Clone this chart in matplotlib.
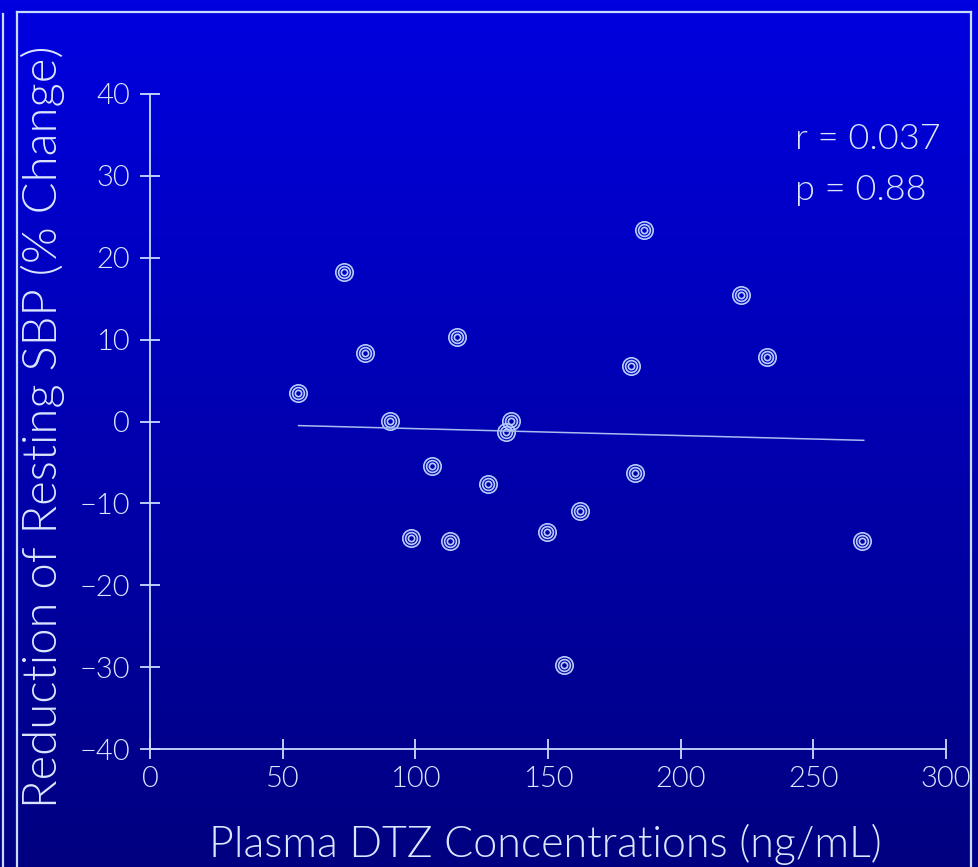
import numpy as np
import matplotlib.pyplot as plt
from matplotlib.lines import Line2D

# plasma diltiazem concentration (ng/mL) vs reduction of resting SBP (%)
conc = [55.8, 73.1, 81.0, 90.5, 98.4, 106.3, 113.1, 115.7, 127.4, 134.2,
        136.1, 149.6, 156.0, 162.1, 181.3, 182.8, 186.2, 222.8, 232.6, 268.4]
sbp = [3.5, 18.3, 8.4, 0.1, -14.2, -5.4, -14.6, 10.3, -7.6, -1.3,
       0.1, -13.5, -29.7, -10.9, 6.8, -6.3, 23.4, 15.4, 7.9, -14.6]

# regression line as drawn
fit_x = [56, 269]
fit_y = [-0.5, -2.3]

x_ticks = [0, 50, 100, 150, 200, 250, 300]
y_ticks = [-40, -30, -20, -10, 0, 10, 20, 30, 40]
stats = ["r = 0.037", "p = 0.88"]

plt.rcParams['font.family'] = ['Lato', 'DejaVu Sans']
plt.rcParams['font.weight'] = 300

fg = '#c8dcff'
txt = '#dce6ff'

fig = plt.figure(figsize=(9.79, 8.67), dpi=100)

# gradient background
bg = fig.add_axes([0, 0, 1, 1], zorder=-10)
grad = np.linspace(0, 1, 256).reshape(-1, 1)
top = np.array([0, 0, 224]) / 255
bot = np.array([0, 0, 128]) / 255
img = top[None, None, :] * (1 - grad[:, :, None]) + bot[None, None, :] * grad[:, :, None]
bg.imshow(img, aspect='auto', extent=[0, 1, 0, 1])
bg.set_axis_off()

# frame lines
for xs, ys in [([3 / 979, 3 / 979], [0, 1 - 14 / 867]),
               ([17 / 979, 17 / 979], [0, 1 - 12 / 867]),
               ([17 / 979, 971 / 979], [1 - 12 / 867, 1 - 12 / 867]),
               ([971 / 979, 971 / 979], [0, 1 - 12 / 867])]:
    fig.add_artist(Line2D(xs, ys, transform=fig.transFigure, color=fg, lw=1.6))

ax = fig.add_axes([150 / 979, 118 / 867, 796 / 979, 655 / 867])
ax.patch.set_alpha(0)

# concentric ring markers
for ms in [12.5, 8.5, 4.5]:
    ax.plot(conc, sbp, 'o', ms=ms, mfc='none', mec='#b8cdff', mew=1.2, ls='none')
ax.plot(fit_x, fit_y, color='#a8bcf0', lw=1.1)

ax.set_xlim(0, 300)
ax.set_ylim(-40, 40)
ax.set_xticks(x_ticks)
ax.set_yticks(y_ticks)
for s in ['top', 'right']:
    ax.spines[s].set_visible(False)
for s in ['left', 'bottom']:
    ax.spines[s].set_color(fg)
    ax.spines[s].set_linewidth(1.3)
ax.tick_params(direction='inout', length=15, width=1.3, color=fg,
               labelcolor=txt, labelsize=21)
ax.tick_params(axis='x', pad=5)
ax.tick_params(axis='y', pad=7)

ax.set_xlabel("Plasma DTZ Concentrations (ng/mL)", fontsize=31,
              color=txt, fontweight=300)
ax.xaxis.label.set_va('baseline')
ax.xaxis.set_label_coords(0.497, -0.165)
ax.set_ylabel("Reduction of Resting SBP (% Change)", fontsize=34,
              color=txt, fontweight=300)
ax.yaxis.label.set_va('baseline')
ax.yaxis.set_label_coords(-0.117, 0.492)

ax.text(0.81, 0.916, stats[0], transform=ax.transAxes, fontsize=26, color=txt, va='baseline')
ax.text(0.81, 0.838, stats[1], transform=ax.transAxes, fontsize=26, color=txt, va='baseline')

fig.savefig('out.png', dpi=100)
